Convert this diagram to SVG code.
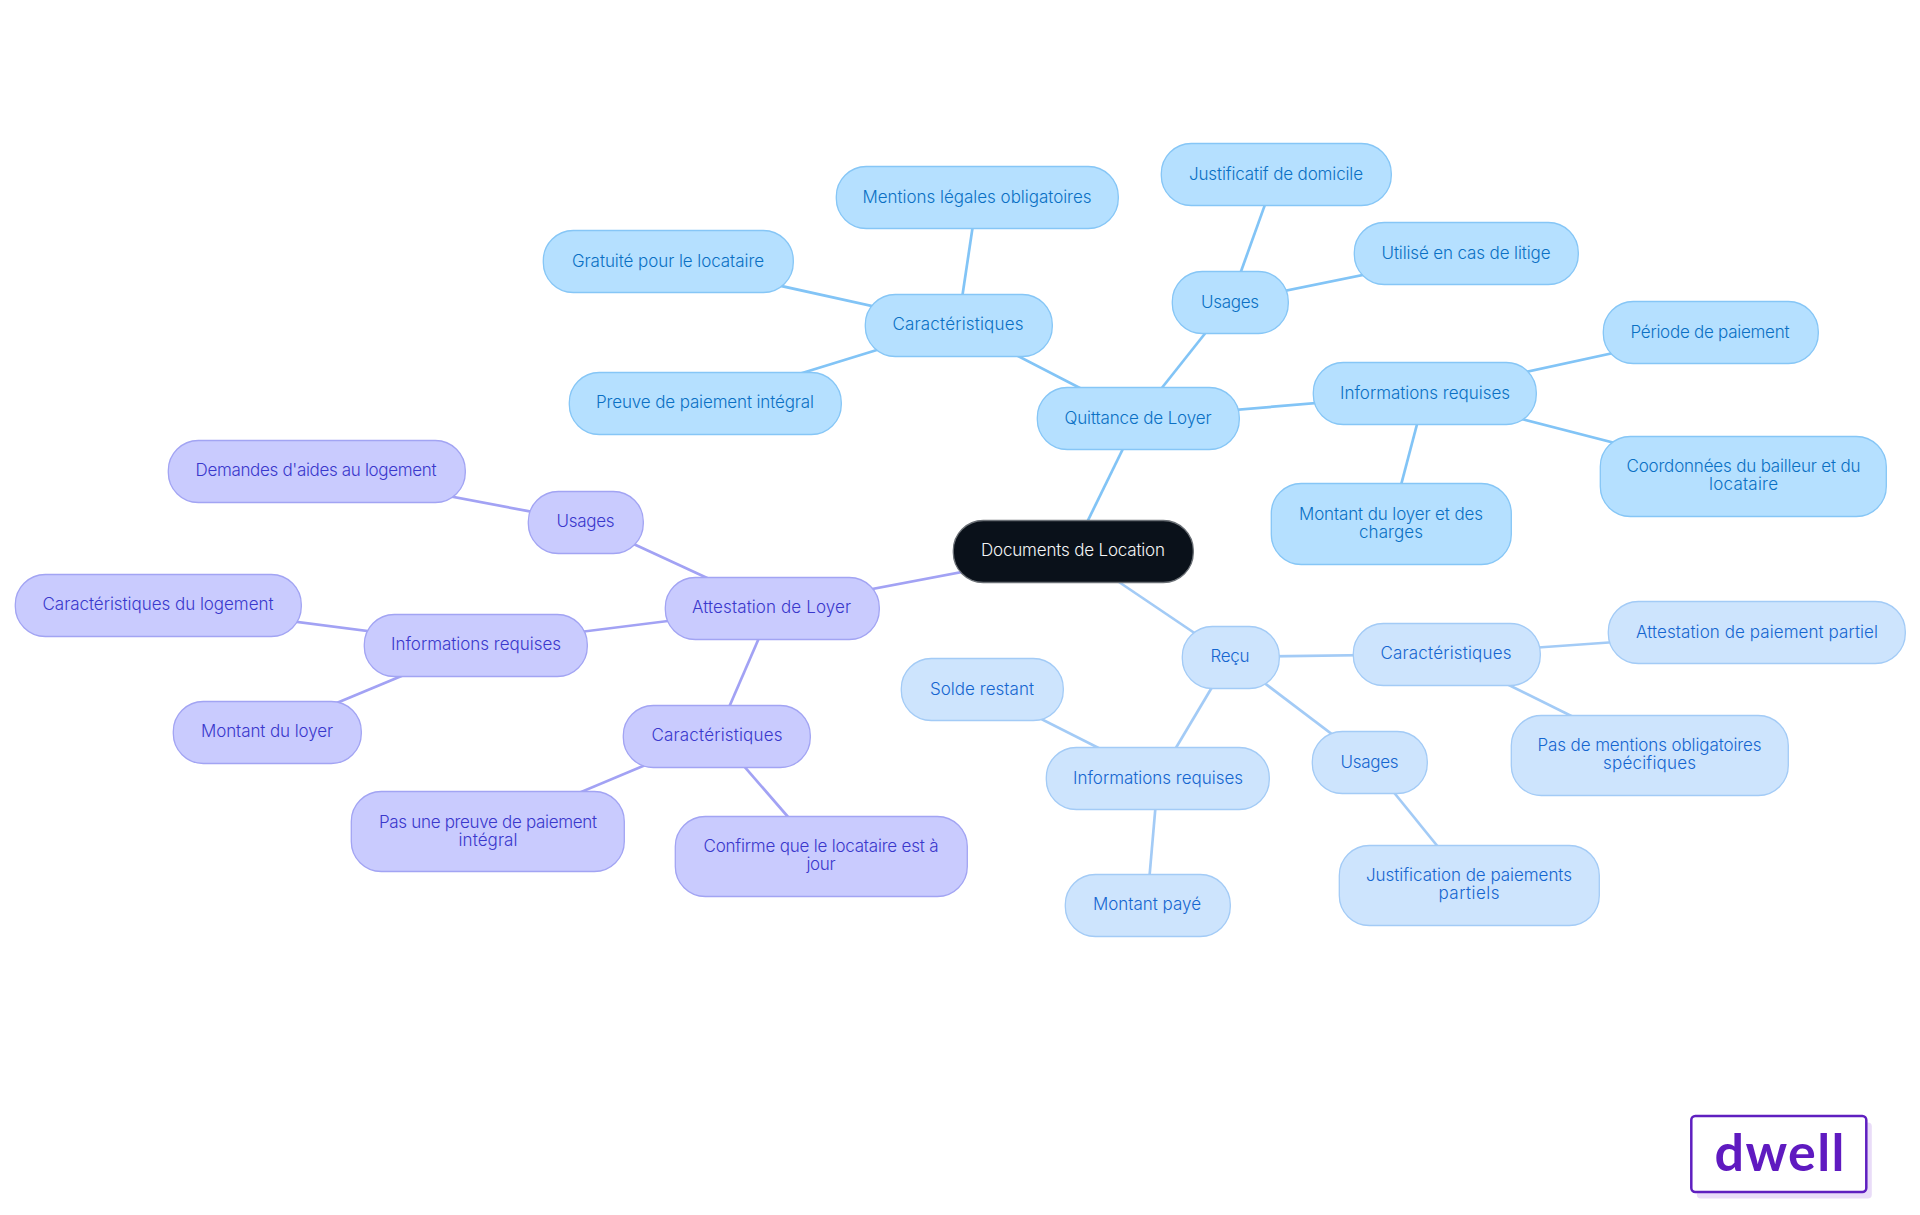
<svg xmlns="http://www.w3.org/2000/svg" width="1920" height="1215" viewBox="0 0 1920 1215">
<style>
text{font-family:"Inter","Noto Sans","Liberation Sans",sans-serif;font-size:17px;font-weight:360;text-anchor:middle}
g[id] rect{stroke-width:1.3;transform:translate(.3px,.5px)}
.q rect{fill:#b5e0ff;stroke:#86c6f6}.q text{fill:#0a70c4}
.r rect{fill:#cde4fd;stroke:#a3cbf6}.r text{fill:#1566d0}
.a rect{fill:#c9cbfe;stroke:#a2a4f3}.a text{fill:#3a38cc}
#connectors line{stroke-width:2.7;fill:none}
.cq{stroke:#82c4f6}.cr{stroke:#a3cbf6}.ca{stroke:#a2a2f4}
</style>
<rect width="1920" height="1215" fill="#ffffff"/>
<g id="connectors">
<line class="cq" x1="1073" y1="551" x2="1138" y2="418"/>
<line class="cq" x1="1138" y1="418" x2="958" y2="325"/>
<line class="cq" x1="958" y1="325" x2="977" y2="198"/>
<line class="cq" x1="958" y1="325" x2="668" y2="261"/>
<line class="cq" x1="958" y1="325" x2="705" y2="403"/>
<line class="cq" x1="1138" y1="418" x2="1230" y2="302"/>
<line class="cq" x1="1230" y1="302" x2="1276" y2="174"/>
<line class="cq" x1="1230" y1="302" x2="1466" y2="254"/>
<line class="cq" x1="1138" y1="418" x2="1425" y2="394"/>
<line class="cq" x1="1425" y1="394" x2="1710" y2="332"/>
<line class="cq" x1="1425" y1="394" x2="1743" y2="476"/>
<line class="cq" x1="1425" y1="394" x2="1391" y2="523"/>
<line class="cr" x1="1073" y1="551" x2="1230" y2="657"/>
<line class="cr" x1="1230" y1="657" x2="1446" y2="654"/>
<line class="cr" x1="1446" y1="654" x2="1757" y2="632"/>
<line class="cr" x1="1446" y1="654" x2="1650" y2="755"/>
<line class="cr" x1="1230" y1="657" x2="1370" y2="763"/>
<line class="cr" x1="1370" y1="763" x2="1469" y2="885"/>
<line class="cr" x1="1230" y1="657" x2="1158" y2="778"/>
<line class="cr" x1="1158" y1="778" x2="982" y2="689"/>
<line class="cr" x1="1158" y1="778" x2="1147" y2="905"/>
<line class="ca" x1="1073" y1="551" x2="772" y2="608"/>
<line class="ca" x1="772" y1="608" x2="586" y2="522"/>
<line class="ca" x1="586" y1="522" x2="316" y2="471"/>
<line class="ca" x1="772" y1="608" x2="476" y2="645"/>
<line class="ca" x1="476" y1="645" x2="158" y2="604"/>
<line class="ca" x1="476" y1="645" x2="267" y2="732"/>
<line class="ca" x1="772" y1="608" x2="717" y2="735"/>
<line class="ca" x1="717" y1="735" x2="488" y2="831"/>
<line class="ca" x1="717" y1="735" x2="821" y2="855"/>
</g>
<g id="root"><rect x="953" y="520" width="240" height="62" rx="30" fill="#0a111a" stroke="#6b7076"/><text x="1073" y="556" fill="#f4f5f6" textLength="184">Documents de Location</text></g>
<g id="quittance" class="q"><rect x="1037" y="387" width="202" height="62" rx="30"/><text x="1138" y="424" textLength="147">Quittance de Loyer</text></g>
<g id="q-caracteristiques" class="q"><rect x="865" y="294" width="187" height="62" rx="30"/><text x="958" y="330" textLength="131">Caractéristiques</text></g>
<g id="q-mentions" class="q"><rect x="836" y="166" width="282" height="62" rx="30"/><text x="977" y="203" textLength="229">Mentions légales obligatoires</text></g>
<g id="q-gratuite" class="q"><rect x="543" y="230" width="250" height="62" rx="30"/><text x="668" y="267" textLength="192">Gratuité pour le locataire</text></g>
<g id="q-preuve" class="q"><rect x="569" y="372" width="272" height="62" rx="30"/><text x="705" y="408" textLength="218">Preuve de paiement intégral</text></g>
<g id="q-usages" class="q"><rect x="1172" y="271" width="116" height="62" rx="30"/><text x="1230" y="308" textLength="58">Usages</text></g>
<g id="q-justificatif" class="q"><rect x="1161" y="143" width="230" height="62" rx="30"/><text x="1276" y="180" textLength="174">Justificatif de domicile</text></g>
<g id="q-utilise" class="q"><rect x="1354" y="222" width="224" height="62" rx="30"/><text x="1466" y="259" textLength="169">Utilisé en cas de litige</text></g>
<g id="q-infos" class="q"><rect x="1313" y="362" width="223" height="62" rx="30"/><text x="1425" y="399" textLength="170">Informations requises</text></g>
<g id="q-periode" class="q"><rect x="1603" y="301" width="215" height="62" rx="30"/><text x="1710" y="338" textLength="159">Période de paiement</text></g>
<g id="q-coordonnees" class="q"><rect x="1600" y="436" width="286" height="80" rx="30"/><text x="1743.500" y="472" textLength="234">Coordonnées du bailleur et du</text><text x="1743.500" y="490" textLength="69">locataire</text></g>
<g id="q-montant" class="q"><rect x="1271" y="483" width="240" height="81" rx="30"/><text x="1391" y="520" textLength="184">Montant du loyer et des</text><text x="1391" y="538" textLength="64">charges</text></g>
<g id="recu" class="r"><rect x="1182" y="626" width="97" height="62" rx="30"/><text x="1230" y="662" textLength="39">Reçu</text></g>
<g id="r-caracteristiques" class="r"><rect x="1353" y="623" width="187" height="62" rx="30"/><text x="1446" y="659" textLength="131">Caractéristiques</text></g>
<g id="r-attestation" class="r"><rect x="1608" y="601" width="297" height="62" rx="30"/><text x="1757" y="638" textLength="242">Attestation de paiement partiel</text></g>
<g id="r-mentions" class="r"><rect x="1511" y="715" width="277" height="80" rx="30"/><text x="1649.500" y="751" textLength="224">Pas de mentions obligatoires</text><text x="1649.500" y="769" textLength="93">spécifiques</text></g>
<g id="r-usages" class="r"><rect x="1312" y="731" width="115" height="62" rx="30"/><text x="1369.500" y="768" textLength="58">Usages</text></g>
<g id="r-justification" class="r"><rect x="1339" y="845" width="260" height="80" rx="30"/><text x="1469" y="881" textLength="206">Justification de paiements</text><text x="1469" y="899" textLength="61">partiels</text></g>
<g id="r-infos" class="r"><rect x="1046" y="747" width="223" height="62" rx="30"/><text x="1158" y="783.500" textLength="170">Informations requises</text></g>
<g id="r-solde" class="r"><rect x="901" y="658" width="162" height="62" rx="30"/><text x="982" y="695" textLength="104">Solde restant</text></g>
<g id="r-montant" class="r"><rect x="1065" y="874" width="165" height="62" rx="30"/><text x="1147" y="910" textLength="108">Montant payé</text></g>
<g id="attestation" class="a"><rect x="665" y="577" width="214" height="62" rx="30"/><text x="771.500" y="613" textLength="159">Attestation de Loyer</text></g>
<g id="a-usages" class="a"><rect x="528" y="491" width="115" height="62" rx="30"/><text x="585.500" y="527" textLength="58">Usages</text></g>
<g id="a-demandes" class="a"><rect x="168" y="440" width="297" height="62" rx="30"/><text x="316" y="476" textLength="241">Demandes d'aides au logement</text></g>
<g id="a-infos" class="a"><rect x="364" y="614" width="223" height="62" rx="30"/><text x="476" y="650" textLength="170">Informations requises</text></g>
<g id="a-logement" class="a"><rect x="15" y="574" width="286" height="62" rx="30"/><text x="158" y="610" textLength="231">Caractéristiques du logement</text></g>
<g id="a-montant" class="a"><rect x="173" y="701" width="188" height="62" rx="30"/><text x="267" y="737" textLength="132">Montant du loyer</text></g>
<g id="a-caracteristiques" class="a"><rect x="623" y="705" width="187" height="62" rx="30"/><text x="717" y="741" textLength="131">Caractéristiques</text></g>
<g id="a-preuve" class="a"><rect x="351" y="791" width="273" height="80" rx="30"/><text x="488" y="828" textLength="218">Pas une preuve de paiement</text><text x="488" y="846" textLength="59">intégral</text></g>
<g id="a-confirme" class="a"><rect x="675" y="816" width="292" height="80" rx="30"/><text x="821" y="852" textLength="235">Confirme que le locataire est à</text><text x="821" y="870" textLength="29">jour</text></g>
<g id="logo"><rect x="1696.500" y="1122" width="175" height="76" rx="4" fill="#e9dcf8" style="stroke:none"/><rect x="1691" y="1115.500" width="175" height="76" rx="4" fill="#ffffff" stroke="#5f1fc0" style="stroke-width:2.5"/><text x="1779.500" y="1171" textLength="130" style="font-family:Lato,'Liberation Sans',sans-serif;font-weight:700;font-size:52px;fill:#5f1ac0">dwell</text></g>
</svg>
